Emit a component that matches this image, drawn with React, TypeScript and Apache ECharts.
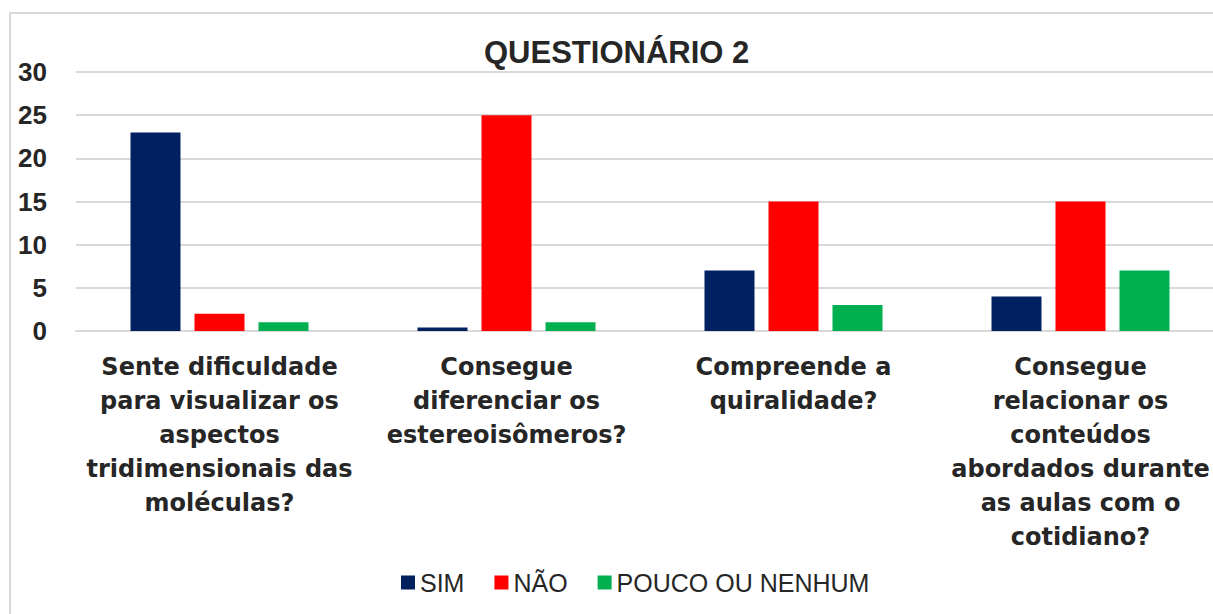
import React, { useEffect, useRef } from "react";
import * as echarts from "echarts";

const categories = [
  "Sente dificuldade\npara visualizar os\naspectos\ntridimensionais das\nmoléculas?",
  "Consegue\ndiferenciar os\nestereoisômeros?",
  "Compreende a\nquiralidade?",
  "Consegue\nrelacionar os\nconteúdos\nabordados durante\nas aulas com o\ncotidiano?",
];
const seriesNames = ["SIM", "NÃO", "POUCO OU NENHUM"];
const simValues = [23, 0.4, 7, 4];
const naoValues = [2, 25, 15, 15];
const poucoValues = [1, 1, 3, 7];
const seriesColors = ["#002060", "#FF0000", "#00B050"];
const titleText = "QUESTIONÁRIO 2";

export default function App() {
  const ref = useRef<HTMLDivElement>(null);
  useEffect(() => {
    if (!ref.current) return;
    const chart = echarts.init(ref.current, null, { renderer: "svg" });
    const values = [simValues, naoValues, poucoValues];
    chart.setOption({
      animation: false,
      backgroundColor: "#ffffff",
      title: {
        text: titleText,
        left: 479,
        top: 32,
        textStyle: {
          fontFamily: "Liberation Sans",
          fontWeight: "bold",
          fontSize: 31,
          color: "#262626",
        },
      },
      graphic: [
        {
          type: "rect",
          shape: { x: 10, y: 13, width: 1250, height: 640 },
          style: { fill: "none", stroke: "#d9d9d9", lineWidth: 2 },
          silent: true,
          z: -1,
        },
      ],
      legend: {
        data: seriesNames,
        left: 396,
        top: 565,
        itemWidth: 14,
        itemHeight: 14,
        itemGap: 30,
        icon: "rect",
        textStyle: {
          fontFamily: "Liberation Sans",
          fontSize: 25,
          color: "#262626",
        },
      },
      grid: {
        left: 76,
        top: 72,
        width: 1148,
        height: 259,
        containLabel: false,
      },
      xAxis: {
        type: "category",
        data: categories,
        axisLine: { show: true, lineStyle: { color: "#d9d9d9", width: 2 } },
        axisTick: { show: false },
        axisLabel: {
          interval: 0,
          margin: 19,
          fontFamily: "DejaVu Sans",
          fontWeight: "bold",
          fontSize: 24,
          lineHeight: 34,
          color: "#262626",
          align: "center",
        },
      },
      yAxis: {
        type: "value",
        min: 0,
        max: 30,
        interval: 5,
        axisLine: { show: false },
        axisTick: { show: false },
        splitLine: { lineStyle: { color: "#d9d9d9", width: 2 } },
        axisLabel: {
          margin: 29,
          fontFamily: "Liberation Sans",
          fontWeight: "bold",
          fontSize: 26,
          color: "#262626",
        },
      },
      series: seriesNames.map((name, i) => ({
        name,
        type: "bar",
        data: values[i],
        barWidth: 50,
        barGap: "28%",
        barCategoryGap: "38%",
        itemStyle: { color: seriesColors[i] },
      })),
    });
    return () => chart.dispose();
  }, []);
  return (
    <div
      style={{
        position: "absolute",
        left: 0,
        top: 0,
        width: 1213,
        height: 614,
        overflow: "hidden",
      }}
    >
      <div ref={ref} style={{ width: 1260, height: 614 }} />
    </div>
  );
}
